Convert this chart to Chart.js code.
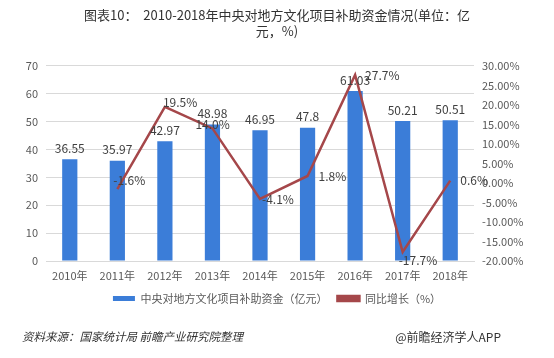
<!DOCTYPE html>
<html>
<head>
<meta charset="utf-8">
<script src="https://cdn.jsdelivr.net/npm/chart.js@4"></script>
<style>
    html, body { margin: 0; padding: 0; background: #fff; }
    #wrap { width: 554px; height: 358px; }
</style>
</head>
<body>
<div id="wrap"><canvas id="fundChart" width="554" height="358"></canvas></div>
<script>
const years = ['2010年', '2011年', '2012年', '2013年', '2014年', '2015年', '2016年', '2017年', '2018年'];
const funds = [36.55, 35.97, 42.97, 48.98, 46.95, 47.8, 61.03, 50.21, 50.51];
const growth = [null, -1.6, 19.5, 14.0, -4.1, 1.8, 27.7, -17.7, 0.6];
const growthText = ['', '-1.6%', '19.5%', '14.0%', '-4.1%', '1.8%', '27.7%', '-17.7%', '0.6%'];

const fontFam = '"Microsoft YaHei", "Noto Sans CJK SC", "DejaVu Sans", sans-serif';
const barColor = '#3b7dd8';
const lineColor = '#a5474a';
const labelColor = '#404040';

// where each growth label sits relative to its point (like Excel placed them)
const labelShiftX = [0, -4, -2, -17, 2, 11, 10, -4, 10];
const labelShiftY = [0, -9, -4, -4, 0, 0, 0, 8, 0];

// value labels over bars and next to line points
const valueLabels = {
    id: 'valueLabels',
    afterDatasetsDraw: function (chart) {
        const ctx = chart.ctx;
        ctx.save();
        ctx.font = '12px ' + fontFam;
        ctx.fillStyle = labelColor;
        ctx.textBaseline = 'middle';

        const bars = chart.getDatasetMeta(0).data;
        ctx.textAlign = 'center';
        for (let i = 0; i < bars.length; i++) {
            ctx.fillText(funds[i].toString(), bars[i].x, bars[i].y - 11);
        }

        const pts = chart.getDatasetMeta(1).data;
        ctx.textAlign = 'left';
        for (let i = 0; i < pts.length; i++) {
            if (growth[i] === null) {
                continue;
            }
            ctx.fillText(growthText[i], pts[i].x + labelShiftX[i], pts[i].y + labelShiftY[i]);
        }
        ctx.restore();
    }
};

// source line at the bottom
const footer = {
    id: 'footer',
    afterDraw: function (chart) {
        const ctx = chart.ctx;
        ctx.save();
        ctx.fillStyle = '#333';
        ctx.textBaseline = 'middle';
        ctx.font = 'italic 11.5px ' + fontFam;
        ctx.textAlign = 'left';
        ctx.fillText('资料来源：国家统计局 前瞻产业研究院整理', 22, 337);
        ctx.font = '12px ' + fontFam;
        ctx.textAlign = 'right';
        ctx.fillText('@前瞻经济学人APP', 501, 337);
        ctx.restore();
    }
};

const ctx = document.getElementById('fundChart').getContext('2d');
const config = {
    data: {
        labels: years,
        datasets: [
            {
                type: 'bar',
                label: '中央对地方文化项目补助资金（亿元）',
                data: funds,
                backgroundColor: barColor,
                categoryPercentage: 0.8,
                barPercentage: 0.4,
                yAxisID: 'y',
                order: 2
            },
            {
                type: 'line',
                label: '同比增长（%）',
                data: growth,
                borderColor: lineColor,
                backgroundColor: lineColor,
                borderWidth: 2.5,
                pointRadius: 0,
                tension: 0,
                yAxisID: 'y1',
                order: 1
            }
        ]
    },
    options: {
        responsive: false,
        animation: false,
        layout: {
            padding: { top: 0, bottom: 44, left: 0, right: 0 }
        },
        plugins: {
            title: {
                display: true,
                text: ['图表10：  2010-2018年中央对地方文化项目补助资金情况(单位：亿', '元，%)'],
                color: '#333',
                font: { size: 13, family: fontFam, weight: 'normal', lineHeight: 1.23 },
                padding: { top: 7, bottom: 27 }
            },
            legend: {
                position: 'bottom',
                labels: {
                    color: '#595959',
                    font: { size: 11, family: fontFam },
                    boxWidth: 22,
                    boxHeight: 5,
                    padding: 10,
                    sort: function (a, b) {
                        return a.datasetIndex - b.datasetIndex;
                    }
                }
            },
            tooltip: { enabled: false }
        },
        scales: {
            x: {
                grid: { display: false, drawTicks: false },
                border: { display: true, color: '#d9d9d9' },
                ticks: {
                    color: '#595959',
                    font: { size: 11, family: fontFam },
                    padding: 8,
                    maxRotation: 0
                },
                afterFit: function (scale) {
                    scale.height = 22;
                }
            },
            y: {
                position: 'left',
                min: 0,
                max: 70,
                grid: { color: '#d9d9d9', drawTicks: false },
                border: { display: false },
                ticks: {
                    stepSize: 10,
                    color: '#595959',
                    font: { size: 11, family: fontFam },
                    padding: 8
                },
                afterFit: function (scale) {
                    scale.width = 46;
                }
            },
            y1: {
                position: 'right',
                min: -20,
                max: 30,
                grid: { display: false, drawTicks: false },
                border: { display: false },
                ticks: {
                    stepSize: 5,
                    color: '#595959',
                    font: { size: 11, family: fontFam },
                    padding: 8,
                    callback: function (v) {
                        return v.toFixed(2) + '%';
                    }
                },
                afterFit: function (scale) {
                    scale.width = 80;
                }
            }
        }
    },
    plugins: [valueLabels, footer]
};
const myChart = new Chart(ctx, config);
</script>
</body>
</html>
